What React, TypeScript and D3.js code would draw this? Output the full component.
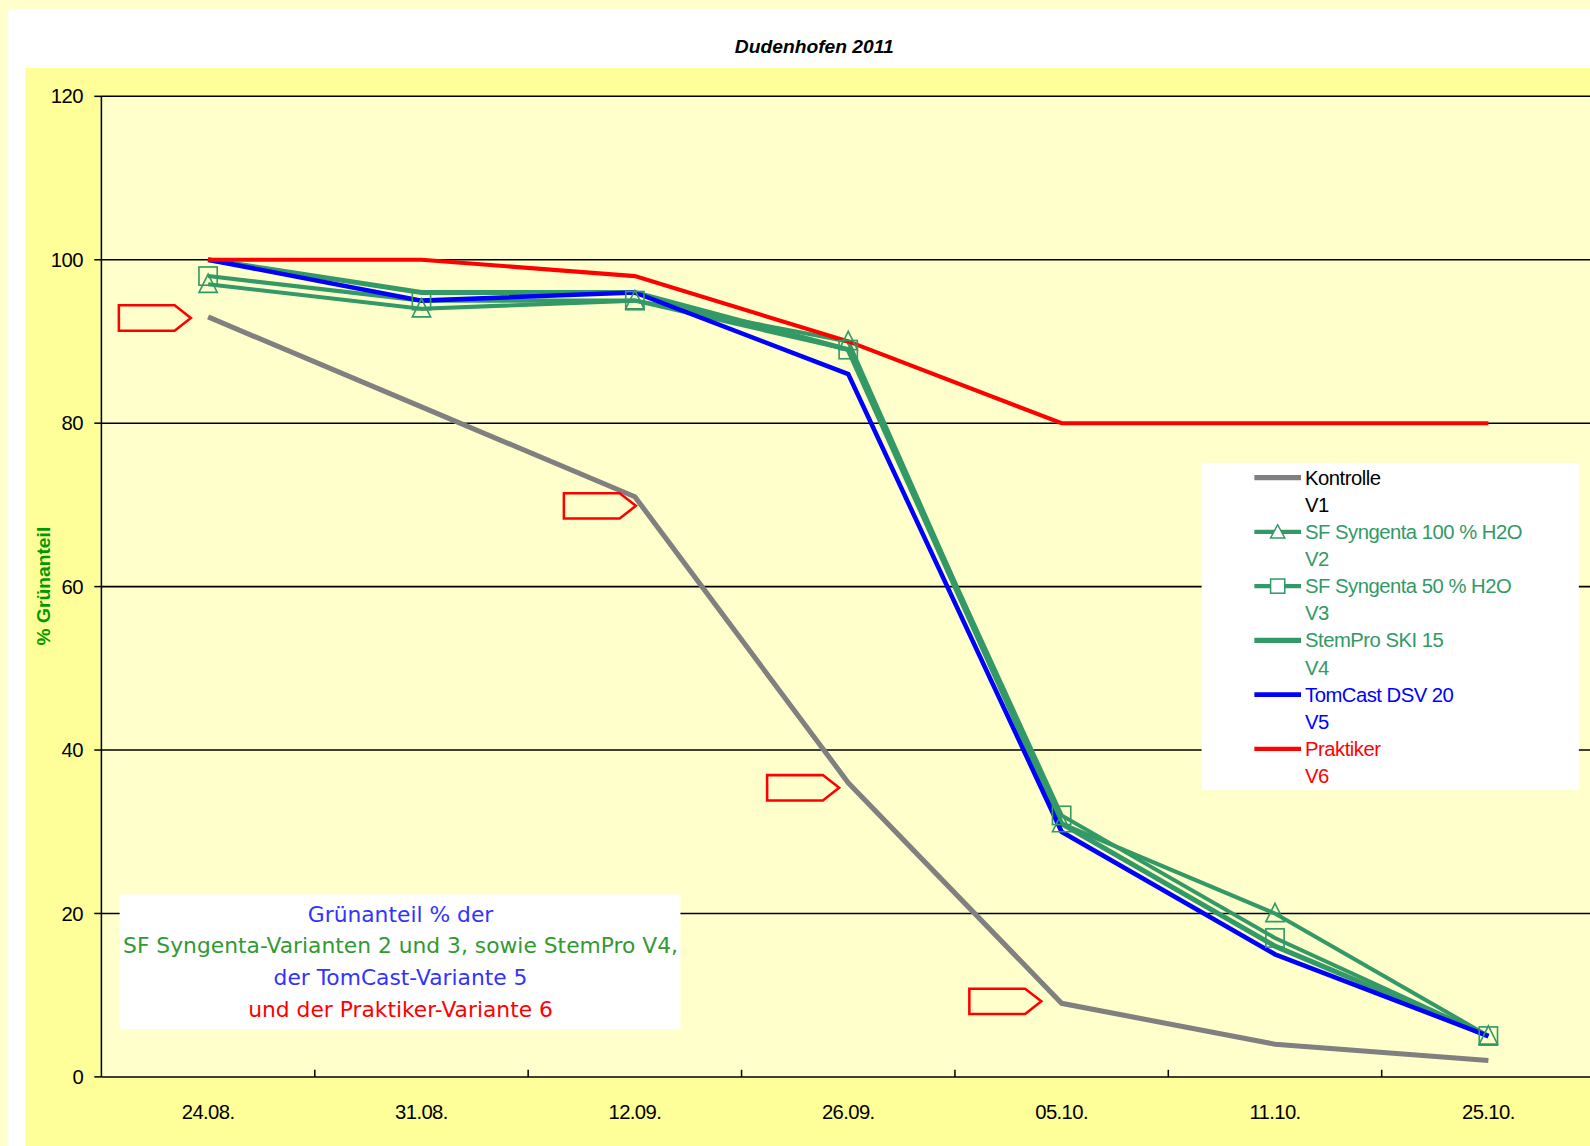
import { useEffect, useRef } from 'react'
import * as d3 from 'd3'

// Dudenhofen 2011 – Grünanteil in %
const DATES = ['24.08.', '31.08.', '12.09.', '26.09.', '05.10.', '11.10.', '25.10.']
const Y_TICKS = [0, 20, 40, 60, 80, 100, 120]

const KONTROLLE = [93, 82, 71, 36, 9, 4, 2]
const SYNGENTA_100 = [97, 94, 95, 90, 31, 20, 5]
const SYNGENTA_50 = [98, 95, 95, 89, 32, 17, 5]
const STEMPRO = [100, 96, 96, 89, 31, 16, 5]
const TOMCAST = [100, 95, 96, 86, 30, 15, 5]
const PRAKTIKER = [100, 100, 98, 90, 80, 80, 80]

const LEGEND_NAMES = ['Kontrolle', 'SF Syngenta 100 % H2O', 'SF Syngenta 50 % H2O', 'StemPro SKI 15', 'TomCast DSV 20', 'Praktiker']
const LEGEND_CODES = ['V1', 'V2', 'V3', 'V4', 'V5', 'V6']

// red arrow annotations point at Kontrolle values
const ARROW_DATES = ['24.08.', '12.09.', '26.09.', '05.10.']
const ARROW_VALUES = [93, 71, 36, 9]

const NOTE_LINES = [
  'Grünanteil % der',
  'SF Syngenta-Varianten 2 und 3, sowie StemPro V4,',
  'der TomCast-Variante 5',
  'und der Praktiker-Variante 6',
]

const GREEN = '#339966'

export default function App() {
  const svgRef = useRef<SVGSVGElement>(null)

  useEffect(() => {
    if (!svgRef.current) return
    const svg = d3.select(svgRef.current)
    svg.selectAll('*').remove()

    const W = 1590
    const H = 1146
    // layout was measured on a 1568px wide copy, so scale up
    const k = 1590 / 1568
    const root = svg.append('g').attr('transform', `scale(${k})`)

    const left = 100
    const top = 95
    const bottom = 1062
    const right = 1573

    // backgrounds
    svg.insert('rect', 'g').attr('width', W).attr('height', H).attr('fill', '#FFFFCC')
    root.append('rect').attr('x', 8).attr('y', 9).attr('width', W).attr('height', H).attr('fill', '#ffffff')
    root.append('rect').attr('x', 25).attr('y', 67).attr('width', W).attr('height', H).attr('fill', '#FFFF99')
    root.append('rect').attr('x', left).attr('y', top).attr('width', W).attr('height', bottom - top).attr('fill', '#FFFFCC')

    const x = d3.scaleBand<string>().domain(DATES).range([left, right])
    const y = d3.scaleLinear().domain([0, 120]).range([bottom, top])
    const cx = (d: string) => (x(d) ?? 0) + x.bandwidth() / 2

    // title
    root.append('text')
      .attr('x', 803).attr('y', 52)
      .attr('text-anchor', 'middle')
      .attr('font-family', 'Liberation Sans, Arial, sans-serif')
      .attr('font-size', 19).attr('font-weight', 'bold').attr('font-style', 'italic')
      .attr('fill', '#000')
      .text('Dudenhofen 2011')

    // gridlines
    root.append('g').selectAll('line')
      .data(Y_TICKS.filter((t) => t > 0))
      .enter().append('line')
      .attr('x1', left).attr('x2', W)
      .attr('y1', (d) => y(d)).attr('y2', (d) => y(d))
      .attr('stroke', '#000').attr('stroke-width', 1.5)

    // y axis
    const yAxis = root.append('g')
    yAxis.append('line').attr('x1', left).attr('x2', left).attr('y1', top).attr('y2', bottom)
      .attr('stroke', '#000').attr('stroke-width', 1.5)
    yAxis.selectAll('line.tick').data(Y_TICKS).enter().append('line')
      .attr('class', 'tick')
      .attr('x1', left - 7).attr('x2', left).attr('y1', (d) => y(d)).attr('y2', (d) => y(d))
      .attr('stroke', '#000').attr('stroke-width', 1.5)
    yAxis.selectAll('text').data(Y_TICKS).enter().append('text')
      .attr('x', 82).attr('y', (d) => y(d) + 7)
      .attr('text-anchor', 'end')
      .attr('font-family', 'Liberation Sans, Arial, sans-serif')
      .attr('font-size', 20)
      .attr('letter-spacing', -0.5)
      .text((d) => d)

    // x axis
    const xAxis = root.append('g')
    xAxis.append('line').attr('x1', left).attr('x2', W).attr('y1', bottom).attr('y2', bottom)
      .attr('stroke', '#000').attr('stroke-width', 1.5)
    xAxis.selectAll('line.tick').data(DATES).enter().append('line')
      .attr('class', 'tick')
      .attr('x1', (_, i) => left + (i + 1) * x.step()).attr('x2', (_, i) => left + (i + 1) * x.step())
      .attr('y1', bottom - 7).attr('y2', bottom)
      .attr('stroke', '#000').attr('stroke-width', 1.5)
    xAxis.selectAll('text').data(DATES).enter().append('text')
      .attr('x', (d) => cx(d)).attr('y', 1104)
      .attr('text-anchor', 'middle')
      .attr('font-family', 'Liberation Sans, Arial, sans-serif')
      .attr('font-size', 20)
      .attr('letter-spacing', -0.6)
      .text((d) => d)

    // y axis title
    root.append('text')
      .attr('transform', `translate(49, 578) rotate(-90)`)
      .attr('text-anchor', 'middle')
      .attr('font-family', 'Liberation Sans, Arial, sans-serif')
      .attr('font-size', 19).attr('font-weight', 'bold')
      .attr('fill', '#009900')
      .text('% Grünanteil')

    // series
    const series = [
      { values: KONTROLLE, color: '#808080', width: 5, marker: '' },
      { values: SYNGENTA_100, color: GREEN, width: 4, marker: 'triangle' },
      { values: SYNGENTA_50, color: GREEN, width: 4, marker: 'square' },
      { values: STEMPRO, color: GREEN, width: 5, marker: '' },
      { values: TOMCAST, color: '#0000FF', width: 4.5, marker: '' },
      { values: PRAKTIKER, color: '#FF0000', width: 4, marker: '' },
    ]

    const line = d3.line<number>()
      .x((_, i) => cx(DATES[i]))
      .y((d) => y(d))

    const lines = root.append('g')
    series.forEach((s) => {
      lines.append('path')
        .attr('d', line(s.values))
        .attr('fill', 'none')
        .attr('stroke', s.color)
        .attr('stroke-width', s.width)
        .attr('stroke-linejoin', 'miter')
    })

    // markers
    const triPath = 'M0,-10 L9,8 L-9,8 Z'
    series.forEach((s) => {
      if (!s.marker) return
      const g = root.append('g')
      s.values.forEach((v, i) => {
        const px = cx(DATES[i])
        const py = y(v)
        if (s.marker === 'triangle') {
          g.append('path')
            .attr('d', triPath)
            .attr('transform', `translate(${px}, ${py})`)
            .attr('fill', 'none').attr('stroke', GREEN).attr('stroke-width', 1.6)
        } else {
          g.append('rect')
            .attr('x', px - 9).attr('y', py - 9).attr('width', 18).attr('height', 18)
            .attr('fill', 'none').attr('stroke', GREEN).attr('stroke-width', 1.6)
        }
      })
    })

    // red arrows
    const tipOffsets = [[-17, 1], [1, 9], [-9, 5], [-20, -2]]
    const arrows = root.append('g')
    ARROW_DATES.forEach((d, i) => {
      const tx = cx(d) + tipOffsets[i][0]
      const ty = y(ARROW_VALUES[i]) + tipOffsets[i][1]
      const w = 71
      const h = 25
      const tip = 16
      const pts = [
        [tx - w, ty - h / 2], [tx - tip, ty - h / 2], [tx, ty],
        [tx - tip, ty + h / 2], [tx - w, ty + h / 2],
      ]
      arrows.append('polygon')
        .attr('points', pts.map((p) => p.join(',')).join(' '))
        .attr('fill', 'none').attr('stroke', '#FF0000').attr('stroke-width', 2.5)
    })

    // legend
    const lg = root.append('g')
    lg.append('rect').attr('x', 1185).attr('y', 457).attr('width', 372).attr('height', 322).attr('fill', '#ffffff')
    const textColors = ['#000000', GREEN, GREEN, GREEN, '#0000FF', '#FF0000']
    const rowH = 26.75
    LEGEND_NAMES.forEach((name, i) => {
      const s = series[i]
      const ly = 471 + i * 2 * rowH
      lg.append('line').attr('x1', 1237).attr('x2', 1283).attr('y1', ly).attr('y2', ly)
        .attr('stroke', s.color).attr('stroke-width', s.width)
      if (s.marker === 'triangle') {
        lg.append('path').attr('d', 'M0,-7 L7,6 L-7,6 Z').attr('transform', `translate(1260, ${ly})`)
          .attr('fill', '#fff').attr('stroke', GREEN).attr('stroke-width', 1.5)
      } else if (s.marker === 'square') {
        lg.append('rect').attr('x', 1253).attr('y', ly - 7).attr('width', 14).attr('height', 14)
          .attr('fill', '#fff').attr('stroke', GREEN).attr('stroke-width', 1.5)
      }
      lg.append('text').attr('x', 1287).attr('y', ly + 7)
        .attr('font-family', 'Liberation Sans, Arial, sans-serif').attr('font-size', 20)
        .attr('letter-spacing', -0.5)
        .attr('fill', textColors[i]).text(name)
      lg.append('text').attr('x', 1287).attr('y', ly + rowH + 7)
        .attr('font-family', 'Liberation Sans, Arial, sans-serif').attr('font-size', 20)
        .attr('letter-spacing', -0.5)
        .attr('fill', textColors[i]).text(LEGEND_CODES[i])
    })

    // note box
    const nb = root.append('g')
    nb.append('rect').attr('x', 118).attr('y', 882).attr('width', 553).attr('height', 133).attr('fill', '#ffffff')
    const noteColors = ['#3333FF', '#339933', '#3333FF', '#FF0000']
    NOTE_LINES.forEach((t, i) => {
      nb.append('text').attr('x', 395).attr('y', 909 + i * 31.3)
        .attr('text-anchor', 'middle')
        .attr('font-family', 'DejaVu Sans, sans-serif')
        .attr('font-size', 21.5)
        .attr('fill', noteColors[i]).text(t)
    })
  }, [])

  return (
    <svg
      ref={svgRef}
      width={1590}
      height={1146}
      style={{ position: 'absolute', left: 0, top: 0, display: 'block' }}
    />
  )
}
